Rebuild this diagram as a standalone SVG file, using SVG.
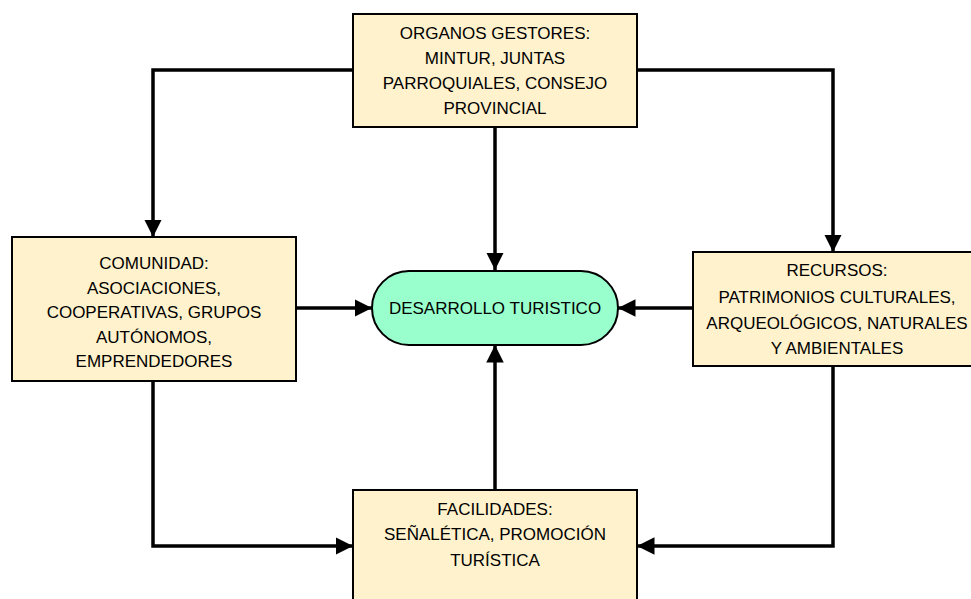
<svg xmlns="http://www.w3.org/2000/svg" width="971" height="599" viewBox="0 0 971 599">
<defs>
<style>
.box{fill:#FFF2CC;stroke:#000;stroke-width:2}
.pill{fill:#99FFCC;stroke:#000;stroke-width:2}
.t{font-family:"Liberation Sans",Arial,sans-serif;font-size:17px;fill:#000;text-anchor:middle;dominant-baseline:central}
.c{fill:none;stroke:#000;stroke-width:3.5}
</style>
<marker id="ah" viewBox="0 0 10 10" refX="10" refY="5" markerWidth="5" markerHeight="5" markerUnits="strokeWidth" orient="auto">
<path d="M0,0 L10,5 L0,10 Z" fill="#000"/>
</marker>
</defs>
<rect width="971" height="599" fill="#fff"/>
<g id="connectors">
<path class="c" d="M353,70 H153 V237" marker-end="url(#ah)"/>
<path class="c" d="M637,70 H833 V252" marker-end="url(#ah)"/>
<path class="c" d="M495,127 V270" marker-end="url(#ah)"/>
<path class="c" d="M296,308 H372" marker-end="url(#ah)"/>
<path class="c" d="M693,308 H618" marker-end="url(#ah)"/>
<path class="c" d="M153,381 V546 H353" marker-end="url(#ah)"/>
<path class="c" d="M833,366 V546 H637" marker-end="url(#ah)"/>
<path class="c" d="M495,490 V345" marker-end="url(#ah)"/>
</g>
<g id="organos">
<rect class="box" x="353" y="14" width="284" height="113"/>
<text class="t" x="495" y="33">ORGANOS GESTORES:</text>
<text class="t" x="495" y="58">MINTUR, JUNTAS</text>
<text class="t" x="495" y="83">PARROQUIALES, CONSEJO</text>
<text class="t" x="495" y="108">PROVINCIAL</text>
</g>
<g id="comunidad">
<rect class="box" x="12" y="237" width="284" height="144"/>
<text class="t" x="154" y="263">COMUNIDAD:</text>
<text class="t" x="154" y="288">ASOCIACIONES,</text>
<text class="t" x="154" y="312">COOPERATIVAS, GRUPOS</text>
<text class="t" x="154" y="337">AUTÓNOMOS,</text>
<text class="t" x="154" y="361">EMPRENDEDORES</text>
</g>
<g id="recursos">
<rect class="box" x="693" y="252" width="284" height="114"/>
<text class="t" x="837" y="270">RECURSOS:</text>
<text class="t" x="837" y="297">PATRIMONIOS CULTURALES,</text>
<text class="t" x="837" y="323">ARQUEOLÓGICOS, NATURALES</text>
<text class="t" x="837" y="348">Y AMBIENTALES</text>
</g>
<g id="desarrollo">
<rect class="pill" x="372" y="271" width="246" height="74" rx="37" ry="37"/>
<text class="t" x="495" y="308">DESARROLLO TURISTICO</text>
</g>
<g id="facilidades">
<rect class="box" x="353" y="490" width="284" height="120"/>
<text class="t" x="495" y="509">FACILIDADES:</text>
<text class="t" x="495" y="534">SEÑALÉTICA, PROMOCIÓN</text>
<text class="t" x="495" y="560">TURÍSTICA</text>
</g>
</svg>
